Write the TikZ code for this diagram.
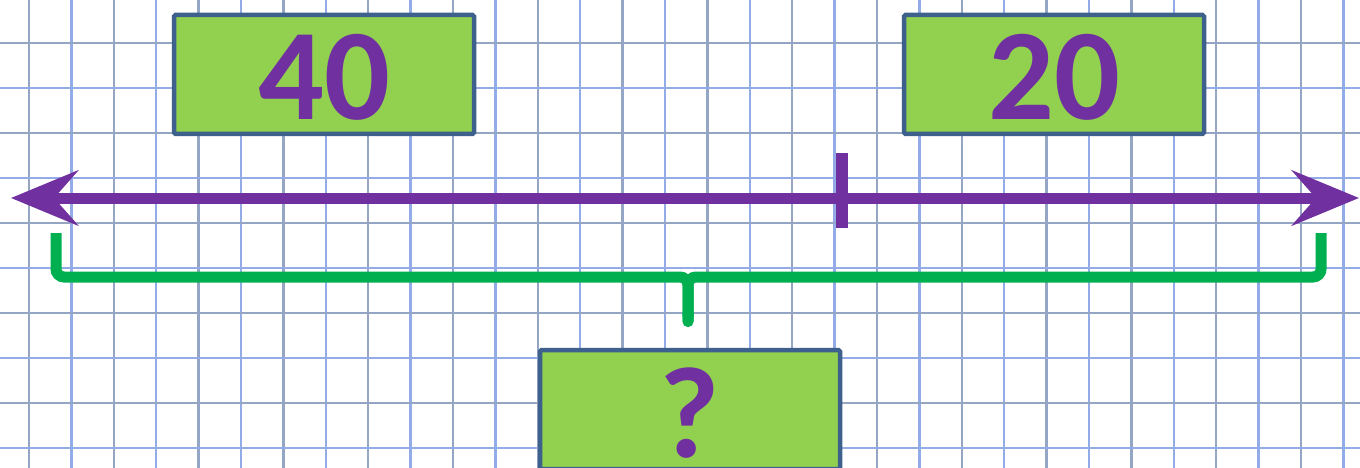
\documentclass[tikz,border=0pt]{standalone}
\usepackage{fontspec}
\setmainfont{Carlito}
\usepackage{tikz}
\usetikzlibrary{arrows.meta,positioning,calc}
\definecolor{gridblue}{RGB}{120,150,225}
\definecolor{gridgrey}{RGB}{130,150,185}
\definecolor{boxfill}{RGB}{146,208,80}
\definecolor{boxdraw}{RGB}{62,96,140}
\definecolor{numpurple}{RGB}{112,48,160}
\definecolor{bracegreen}{RGB}{0,176,80}

\begin{document}
\begin{tikzpicture}[
    x=1pt, y=-1pt,
    gridline/.style={line width=2.3pt, gridgrey!85},
    gridalt/.style={line width=2.3pt, gridblue!80},
    numbox/.style={rectangle, draw=boxdraw, fill=boxfill, line width=4.5pt, rounded corners=1.5pt, minimum width=300pt, minimum height=119pt, inner sep=0pt, font=\fontsize{130}{130}\selectfont\bfseries, text=numpurple, text height=91pt, text depth=0pt},
    numline/.style={line width=11pt, numpurple, {Stealth[length=67pt,width=55pt,inset=24pt]}-{Stealth[length=67pt,width=55pt,inset=24pt]}},
    tickline/.style={line width=12pt, numpurple},
    brace/.style={line width=11pt, bracegreen, rounded corners=8pt, -{Round Cap[]}}
]
    \useasboundingbox (0,0) rectangle (1360,468);

    % graph paper
    \begin{scope}
    \clip (0,0) rectangle (1360,468);
    \foreach \gx in {0,...,31} {
        \pgfmathsetmacro{\px}{29+42.4*\gx}
        \ifodd\gx
            \draw[gridalt] (\px,0) -- (\px,468);
        \else
            \draw[gridline] (\px,0) -- (\px,468);
        \fi
    }
    \foreach \gy in {-1,...,9} {
        \pgfmathsetmacro{\py}{43+45*\gy}
        \ifodd\gy
            \draw[gridalt] (0,\py) -- (1360,\py);
        \else
            \draw[gridline] (0,\py) -- (1360,\py);
        \fi
    }
    \end{scope}

    % parts and total
    \node[numbox] (forty) at (324,74.5) {40};
    \node[numbox] (twenty) at (1054,74.5) {20};
    \node[numbox, text height=95pt] (total) at (690,409.5) {?};

    % number line
    \coordinate (lefttip) at (11,198);
    \coordinate (righttip) at (1359,198);
    \draw[numline] (lefttip) -- (righttip);
    \draw[tickline] (842,153) -- (842,228);

    % brace under the line
    \coordinate (braceL) at (56,233);
    \coordinate (braceR) at (1321,233);
    \coordinate (braceMid) at (688,277);
    \coordinate (braceTip) at (688,327);
    \draw[brace] (braceL) |- (braceMid) -- (braceTip);
    \draw[brace] (braceR) |- (braceMid) -- (braceTip);
\end{tikzpicture}
\end{document}
